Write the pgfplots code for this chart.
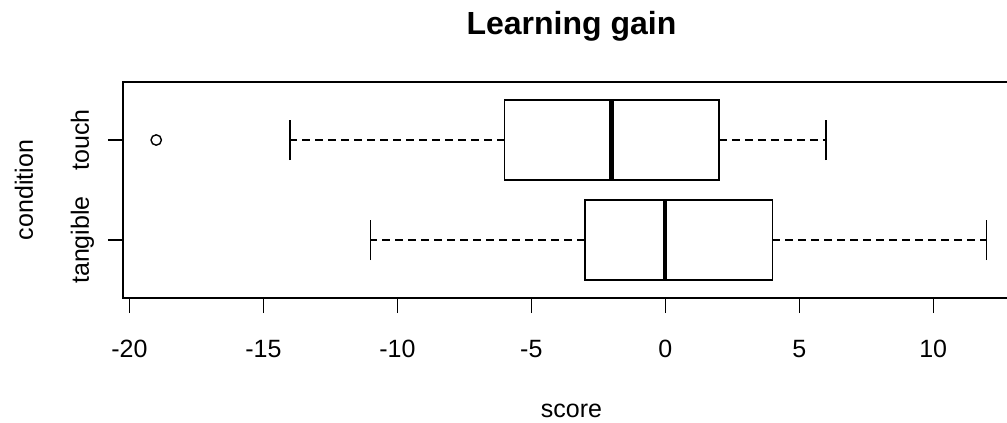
\documentclass[border=0pt]{standalone}
\usepackage{pgfplots}
\pgfplotsset{compat=1.18}
\usepgfplotslibrary{statistics}
\usepackage{fontspec}
\setmainfont{Liberation Sans}

\begin{document}
\fontsize{12.5}{15}\selectfont
\begin{tikzpicture}
\begin{axis}[
  scale only axis, width=448.5pt, height=108pt,
  xmin=-20.24, xmax=13.24, ymin=0.42, ymax=2.58,
  xtick={-20,-15,-10,-5,0,5,10},
  xticklabels={-20,-15,-10,-5,0,5,10},
  ytick={1,2}, yticklabels={tangible,touch},
  tick pos=left, tick align=outside, major tick length=7.5pt,
  tick style={black, line width=0.7pt},
  axis line style={line width=0.7pt},
  every tick label/.append style={font=\fontsize{12.5}{15}\selectfont},
  xticklabel style={anchor=base},
  xticklabel shift=22pt,
  yticklabel style={rotate=90, anchor=base},
  yticklabel shift=9.5pt,
  title={Learning gain},
  title style={at={(0.5,1)}, anchor=base, yshift=17.8pt, font=\bfseries\fontsize{16}{19}\selectfont},
  xlabel={score},
  xlabel style={at={(0.5,0)}, anchor=base, yshift=-59.5pt, font=\fontsize{12.5}{15}\selectfont},
  ylabel={condition},
  ylabel style={at={([xshift=-45pt]axis description cs:0,0.5)}, anchor=base, rotate=0, font=\fontsize{12.5}{15}\selectfont},
  boxplot/draw direction=x,
  boxplot/every median/.style={line width=2.2pt},
  boxplot/draw/lower whisker/.code={
    \draw[black, line width=0.7pt, dash pattern=on 4pt off 2.5pt]
      (boxplot cs:\pgfplotsboxplotvalue{lower quartile}) -- (boxplot cs:\pgfplotsboxplotvalue{lower whisker});
    \draw[black, line width=0.7pt]
      (boxplot whisker cs:\pgfplotsboxplotvalue{lower whisker},0) -- (boxplot whisker cs:\pgfplotsboxplotvalue{lower whisker},1);
  },
  boxplot/draw/upper whisker/.code={
    \draw[black, line width=0.7pt, dash pattern=on 4pt off 2.5pt]
      (boxplot cs:\pgfplotsboxplotvalue{upper quartile}) -- (boxplot cs:\pgfplotsboxplotvalue{upper whisker});
    \draw[black, line width=0.7pt]
      (boxplot whisker cs:\pgfplotsboxplotvalue{upper whisker},0) -- (boxplot whisker cs:\pgfplotsboxplotvalue{upper whisker},1);
  },
]
% tangible
\addplot[black, line width=0.7pt, boxplot prepared={draw position=1,
  lower whisker=-11, lower quartile=-3, median=0, upper quartile=4, upper whisker=12,
  box extend=0.8, whisker extend=0.4}] coordinates {};
% touch
\addplot[black, line width=0.7pt, boxplot prepared={draw position=2,
  lower whisker=-14, lower quartile=-6, median=-2, upper quartile=2, upper whisker=6,
  box extend=0.8, whisker extend=0.4}] coordinates {};
% outlier
\addplot[only marks, mark=o, mark size=2.6pt, black, line width=0.7pt] coordinates {(-19,2)};
\end{axis}
\pgfresetboundingbox
\path[use as bounding box] (-61.5pt,-62.5pt) rectangle (442pt,149pt);
\end{tikzpicture}
\end{document}
